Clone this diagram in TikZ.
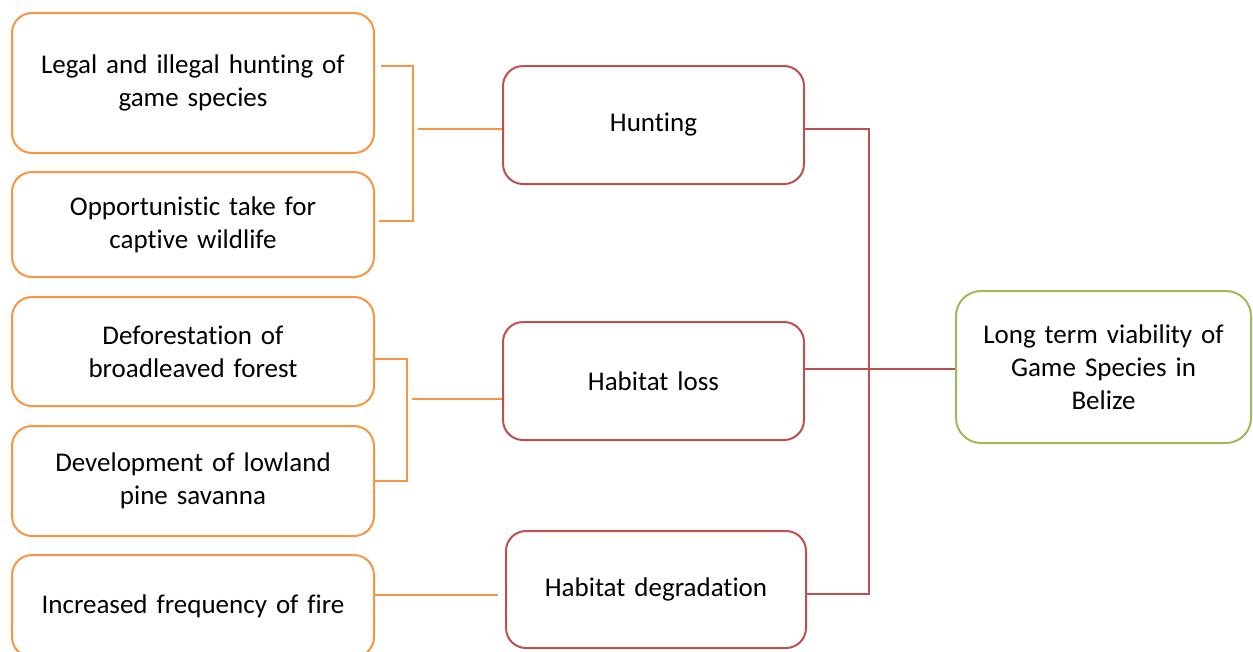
\documentclass[tikz,border=0pt]{standalone}
\usepackage{fontspec}
\setmainfont{Carlito}[Ligatures={NoCommon}]
\definecolor{oc}{HTML}{F79646}
\definecolor{rc}{HTML}{C0504D}
\definecolor{gc}{HTML}{9BBB59}
\begin{document}
\begin{tikzpicture}[x=1pt,y=-1pt,
  box/.style={draw, line width=2pt, rounded corners=20pt, align=center, inner sep=0pt,
    font=\fontsize{27}{33}\selectfont},
  obox/.style={box, draw=oc, minimum width=362pt, text width=345pt},
  rbox/.style={box, draw=rc, minimum width=301pt, minimum height=118pt, text width=290pt},
  gbox/.style={box, draw=gc, rounded corners=25pt, minimum width=295pt, minimum height=152pt, text width=285pt},
  oline/.style={draw=oc, line width=2pt},
  rline/.style={draw=rc, line width=2pt}]
\clip (0,0) rectangle (1253,651);
\fill[white] (0,0) rectangle (1253,651);
% left boxes
\node[obox, minimum height=140pt] (b1) at (193,83) {Legal and illegal hunting of\\game species};
\node[obox, minimum height=105pt] (b2) at (193,224.5) {Opportunistic take for\\captive wildlife};
\node[obox, minimum height=109pt] (b3) at (193,351.5) {Deforestation of\\broadleaved forest};
\node[obox, minimum height=110pt] (b4) at (193,481) {Development of lowland\\pine savanna};
\node[obox, minimum height=102pt] (b5) at (193,606) {Increased frequency of fire};
% middle boxes
\node[rbox] (hunt) at (653.5,125) {Hunting};
\node[rbox] (loss) at (653.5,381) {Habitat loss};
\node[rbox, minimum width=300pt, minimum height=117pt] (degr) at (656,589.5) {Habitat degradation};
% right box
\node[gbox] (goal) at (1103.5,367) {Long term viability of\\Game Species in\\Belize};
% bracket 1
\coordinate (k1) at (413,66);
\coordinate (k2) at (413,221);
\draw[oline] ([xshift=6pt]b1.east|-k1) -- (k1) -- (k2) -- ([xshift=4pt]b2.east|-k2);
\coordinate (m1) at (418,129);
\draw[oline] (m1) -- (hunt.west|-m1);
% bracket 2
\coordinate (k3) at (407,359);
\coordinate (k4) at (407,481);
\draw[oline] (b3.east|-k3) -- (k3) -- (k4) -- (b4.east|-k4);
\coordinate (m2) at (412,399);
\draw[oline] (m2) -- (loss.west|-m2);
% fire
\coordinate (m3) at (498,595);
\draw[oline] (b5.east|-m3) -- (m3);
% red bracket
\coordinate (r1) at (869,129);
\coordinate (r2) at (869,594);
\draw[rline] (hunt.east|-r1) -- (r1) -- (r2) -- (degr.east|-r2);
\coordinate (r3) at (869,369);
\draw[rline] (loss.east|-r3) -- (goal.west|-r3);
\end{tikzpicture}
\end{document}
